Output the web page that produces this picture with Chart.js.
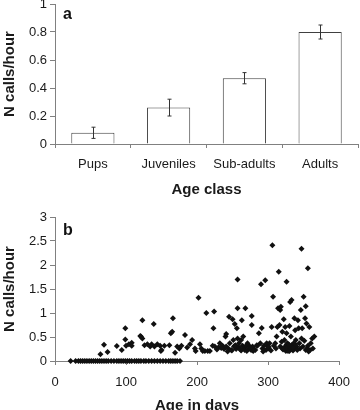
<!DOCTYPE html>
<html>
<head>
<meta charset="utf-8">
<script src="https://cdn.jsdelivr.net/npm/chart.js@4.4.0/dist/chart.umd.min.js"></script>
<style>
html, body { margin: 0; padding: 0; background: #fff; overflow: hidden; width: 360px; height: 410px; }
.panel { position: relative; width: 360px; }
.lettre { position: absolute; font: bold 16px "Liberation Sans", Arial, sans-serif; color: #111; }
canvas { display: block; }
</style>
</head>
<body>
<div class="panel" style="height:200px">
  <canvas id="graphique-a" width="360" height="200"></canvas>
  <div class="lettre" style="left:63px;top:5px">a</div>
</div>
<div class="panel" style="height:218px">
  <canvas id="graphique-b" width="360" height="218"></canvas>
  <div class="lettre" style="left:63px;top:21px">b</div>
</div>
<script>
// panel a : mean call rate per age class
var ageClasses = ['Pups', 'Juveniles', 'Sub-adults', 'Adults'];
var callRateMean = [0.08, 0.26, 0.47, 0.80];
var callRateErr = [0.04, 0.06, 0.04, 0.05];
var yTicksA = [0, 0.2, 0.4, 0.6, 0.8, 1];

// panel b : call rate against age (days)
var ageDays = [
    22, 29, 33, 36, 39, 42, 45, 48, 51, 54, 57, 60, 63, 66, 69, 72, 75, 79, 83, 87, 90, 93, 96,
    99, 102, 105, 108, 112, 115, 118, 121, 125, 128, 132, 136, 140, 144, 148, 152, 156, 160, 163,
    166, 169, 172, 176,
    64, 69, 74, 87, 94, 99, 99, 100, 104, 108, 108, 120, 121, 123, 123, 126, 130, 134, 136, 139,
    140, 144, 148, 149, 150, 154, 161, 163, 165, 166, 169, 172, 175, 178, 183, 186, 190, 193, 197,
    198, 202, 204, 206, 208, 211, 213, 215, 218,
    222, 223, 224, 225, 230, 232, 236, 238, 240, 241, 241, 244, 245, 246, 248, 250, 251, 252, 253,
    254, 255, 256, 257, 257, 257, 258, 259, 260, 262, 262, 263, 264, 265, 266, 267, 268, 269, 270,
    271, 272, 273, 274, 276, 277, 277, 278, 280, 282, 285, 287, 289, 290, 291, 292, 294, 296, 297,
    298, 299, 300, 302, 305, 306, 307, 308, 310, 312, 313, 314, 315, 316, 317, 317, 318, 320, 320,
    322, 323, 323, 324, 324, 325, 326, 326, 326, 327, 328, 328, 329, 330, 330, 331, 332, 332, 333,
    333, 334, 335, 336, 337, 337, 338, 338, 339, 340, 342, 343, 344, 345, 346, 347, 347, 348, 349,
    350, 352, 353, 353, 354, 355, 356, 356, 358, 359, 360, 362, 363, 365,
    228, 234, 243, 249, 253, 261, 275, 279, 284, 293, 301, 304, 311, 319, 321, 329, 335, 341, 351, 357
];
var callRate = [
    0, 0, 0, 0, 0, 0, 0, 0, 0, 0, 0, 0, 0, 0, 0, 0, 0, 0, 0, 0, 0, 0, 0,
    0, 0, 0, 0, 0, 0, 0, 0, 0, 0, 0, 0, 0, 0, 0, 0, 0, 0, 0,
    0, 0, 0, 0,
    0.14, 0.34, 0.19, 0.31, 0.23, 0.68, 0.45, 0.32, 0.35, 0.32, 0.38, 0.52, 0.51, 0.85, 0.47, 0.33, 0.35, 0.30, 0.35, 0.77,
    0.30, 0.35, 0.32, 0.21, 0.23, 0.32, 0.33, 0.58, 0.61, 0.89, 0.17, 0.30, 0.26, 0.32, 0.54, 0.28, 0.35, 0.44, 0.26,
    0.21, 1.32, 0.35, 0.26, 0.21, 0.21, 1.00, 0.21, 0.21,
    0.32, 0.68, 1.03, 0.30, 0.28, 0.37, 0.32, 0.25, 0.51, 0.56, 0.30, 0.26, 0.92, 0.37, 0.23, 0.87, 0.44, 0.30, 0.77,
    0.33, 0.25, 0.68, 1.70, 1.10, 0.47, 0.29, 0.37, 0.26, 0.44, 0.22, 0.85, 0.32, 0.51, 0.27, 0.23, 1.10, 0.32, 0.21,
    0.37, 0.33, 0.26, 0.30, 0.23, 0.94, 0.75, 0.30, 0.25, 0.23, 0.32, 0.58, 0.37, 1.60, 0.69, 0.26, 0.32, 1.68, 0.23,
    0.37, 0.32, 0.26, 0.37, 0.71, 2.41, 1.34, 0.32, 0.37, 0.51, 0.71, 1.10, 1.86, 0.75, 1.06, 0.30, 1.13, 0.61, 0.26,
    0.87, 0.44, 0.25, 0.71, 0.30, 0.21, 1.65, 0.58, 0.34, 0.37, 0.21, 0.25, 0.30, 0.73, 0.21, 1.23, 0.51, 0.26, 1.27,
    0.33, 0.32, 0.22, 0.37, 0.89, 0.26, 0.64, 0.35, 0.44, 0.30, 0.85, 0.68, 0.37, 0.26, 1.06, 0.47, 2.34, 0.68, 0.30,
    1.34, 0.89, 0.23, 1.14, 0.78, 0.26, 1.93, 0.32, 0.71, 0.23, 0.37, 0.47, 0.26, 0.51,
    0.24, 0.27, 0.20, 0.22, 0.31, 0.24, 0.27, 0.21, 0.33, 0.20, 0.29, 0.22, 0.26, 0.40, 0.24, 0.35, 0.28, 0.23, 0.42, 0.20
];
var xTicksB = [0, 100, 200, 300, 400];
var yTicksB = [0, 0.5, 1, 1.5, 2, 2.5, 3];

var couleurTexte = '#1a1a1a';
var couleurAxe = '#808080';

Chart.defaults.font.family = '"Liberation Sans", Arial, sans-serif';
Chart.defaults.font.size = 13;
Chart.defaults.color = couleurTexte;

function etiquette(v) { return String(v); }

// error bars drawn from the y scale
var barresErreur = {
    id: 'barresErreur',
    afterDatasetsDraw: function (chart) {
        var ctx = chart.ctx;
        var meta = chart.getDatasetMeta(0);
        var y = chart.scales.y;
        ctx.save();
        ctx.strokeStyle = '#333';
        ctx.lineWidth = 1;
        for (var i = 0; i < meta.data.length; i++) {
            var x = Math.round(meta.data[i].x) + 0.5;
            var haut = y.getPixelForValue(callRateMean[i] + callRateErr[i]);
            var bas = y.getPixelForValue(callRateMean[i] - callRateErr[i]);
            ctx.beginPath();
            ctx.moveTo(x, haut); ctx.lineTo(x, bas);
            ctx.moveTo(x - 2, haut); ctx.lineTo(x + 2, haut);
            ctx.moveTo(x - 2, bas); ctx.lineTo(x + 2, bas);
            ctx.stroke();
        }
        ctx.restore();
    }
};

var ctxa = document.getElementById('graphique-a').getContext('2d');
var charta = new Chart(ctxa, {
    type: 'bar',
    data: {
        labels: ageClasses,
        datasets: [{
            data: callRateMean,
            backgroundColor: '#ffffff',
            borderColor: '#404040',
            borderWidth: 1,
            barPercentage: 0.57,
            categoryPercentage: 1
        }]
    },
    options: {
        responsive: false,
        animation: false,
        layout: { padding: { top: 4, right: 2, left: 0, bottom: 0 } },
        plugins: { legend: { display: false }, tooltip: { enabled: false } },
        scales: {
            x: {
                grid: { drawOnChartArea: false, drawTicks: true, tickLength: 4, color: couleurAxe, offset: true },
                border: { color: couleurAxe },
                ticks: { padding: 9, color: couleurTexte },
                title: { display: true, text: 'Age class', font: { size: 15, weight: 'bold' }, color: couleurTexte, padding: { top: 0, bottom: 1 } },
                afterFit: function (s) { s.height = 56; }
            },
            y: {
                min: 0, max: 1,
                grid: { drawOnChartArea: false, tickLength: 5, color: couleurAxe },
                border: { color: couleurAxe },
                ticks: { padding: 3, color: couleurTexte, callback: etiquette },
                title: { display: true, text: 'N calls/hour', font: { size: 15, weight: 'bold' }, color: couleurTexte, padding: { top: 1, bottom: 0 } },
                afterBuildTicks: function (s) { s.ticks = yTicksA.map(function (v) { return { value: v }; }); },
                afterFit: function (s) { s.width = 55; s.paddingTop = 0; s.paddingBottom = 0; }
            }
        }
    },
    plugins: [barresErreur]
});

var points = [];
for (var i = 0; i < ageDays.length; i++) {
    points.push({ x: ageDays[i], y: callRate[i] });
}

var ctxb = document.getElementById('graphique-b').getContext('2d');
var chartb = new Chart(ctxb, {
    type: 'scatter',
    data: {
        datasets: [{
            data: points,
            pointStyle: 'rectRot',
            pointRadius: 3,
            backgroundColor: '#111',
            borderWidth: 0,
            clip: false
        }]
    },
    options: {
        responsive: false,
        animation: false,
        layout: { padding: { top: 17, right: 15, left: 0, bottom: 0 } },
        plugins: { legend: { display: false }, tooltip: { enabled: false } },
        scales: {
            x: {
                min: 0, max: 400,
                grid: { drawOnChartArea: false, tickLength: 4, color: couleurAxe },
                border: { color: couleurAxe },
                ticks: { padding: 10, color: couleurTexte, callback: etiquette },
                title: { display: true, text: 'Age in days', font: { size: 15, weight: 'bold' }, color: couleurTexte, padding: { top: 0, bottom: 3 } },
                afterBuildTicks: function (s) { s.ticks = xTicksB.map(function (v) { return { value: v }; }); },
                afterFit: function (s) { s.height = 57; }
            },
            y: {
                min: 0, max: 3,
                grid: { drawOnChartArea: false, tickLength: 5, color: couleurAxe },
                border: { color: couleurAxe },
                ticks: { padding: 3, color: couleurTexte, callback: etiquette },
                title: { display: true, text: 'N calls/hour', font: { size: 15, weight: 'bold' }, color: couleurTexte, padding: { top: 1, bottom: 0 } },
                afterBuildTicks: function (s) { s.ticks = yTicksB.map(function (v) { return { value: v }; }); },
                afterFit: function (s) { s.width = 55; s.paddingTop = 0; s.paddingBottom = 0; }
            }
        }
    }
});
</script>
</body>
</html>
